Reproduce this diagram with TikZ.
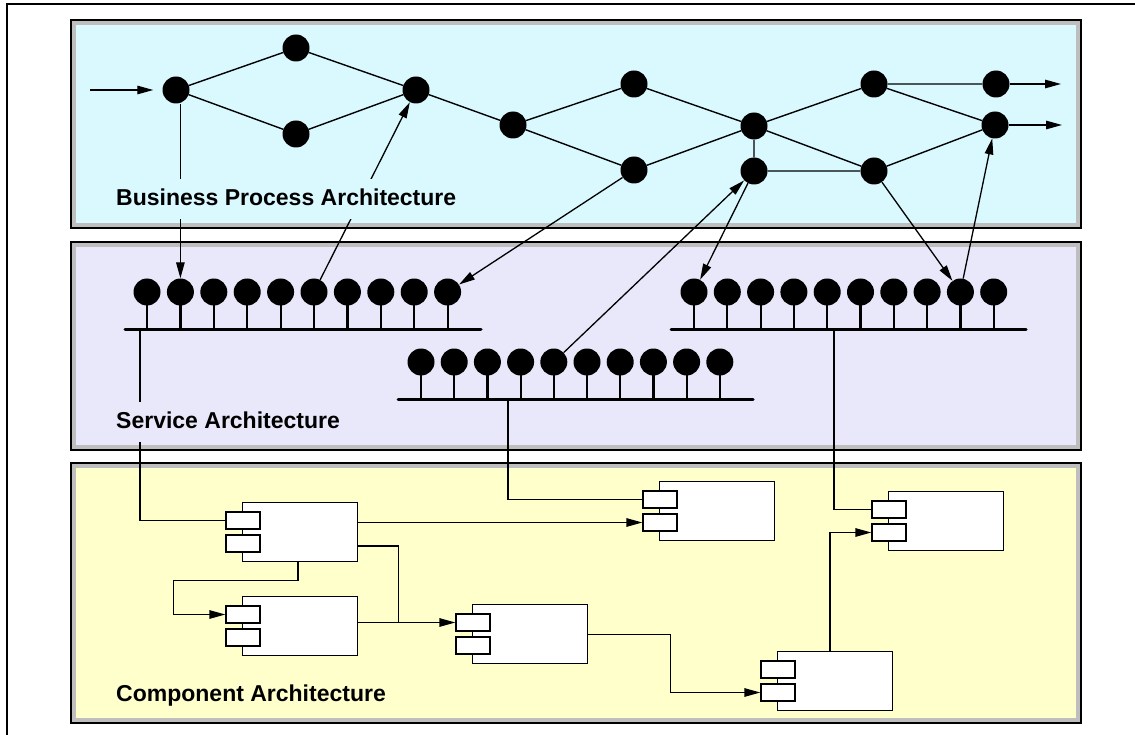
\documentclass[tikz,border=0pt]{standalone}
\usepackage{fontspec}
\setmainfont{Liberation Sans}
\usetikzlibrary{arrows.meta,calc}
\definecolor{bpfill}{HTML}{D9F9FF}
\definecolor{safill}{HTML}{E8E8FA}
\definecolor{cafill}{HTML}{FFFFCC}
\definecolor{band}{HTML}{BEBEBE}
\tikzset{
  bpdot/.style={circle, fill=black, inner sep=0pt, minimum size=27pt},
  flow/.style={line width=1.4pt},
  arr/.style={line width=1.3pt, -{Triangle[length=16pt,width=8.5pt]}},
  conn/.style={line width=1.3pt},
  stick/.style={line width=2.2pt},
  svcbar/.style={line width=3pt, line cap=round},
  panel/.style={draw=black, line width=2pt, fill=band},
  laytext/.style={anchor=west, font=\fontsize{23}{27}\selectfont\bfseries, inner xsep=3pt, inner ysep=9pt, text height=17pt, text depth=5pt},
  compbox/.style={draw=black, line width=1.3pt, fill=white, minimum width=115pt, minimum height=59pt, inner sep=0pt, anchor=north west},
  portbox/.style={draw=black, line width=1.3pt, fill=white, minimum width=34pt, minimum height=17pt, inner sep=0pt},
}
\newcommand\mkcomp[3]{%
  \node[compbox] (#1) at (#2,#3) {};
  \node[portbox] (#1-p1) at ($(#1.north west)+(1,18.5)$) {};
  \node[portbox] (#1-p2) at ($(#1.north west)+(1,41.5)$) {};
}
\begin{document}
\begin{tikzpicture}[x=1pt,y=-1pt]
\useasboundingbox (0,0) rectangle (1135,735);
% outer frame
\draw[line width=2pt] (7,735) -- (7,4) -- (1135,4);
% panels
\draw[panel] (71,20) rectangle (1081,228);
\fill[bpfill] (76,25) rectangle (1076,223);
\draw[panel] (71,242) rectangle (1081,450);
\fill[safill] (76,247) rectangle (1076,445);
\draw[panel] (71,463) rectangle (1081,723);
\fill[cafill] (76,468) rectangle (1076,718);

% business process nodes
\node[bpdot] (A) at (176,90) {};
\node[bpdot] (B) at (296,48) {};
\node[bpdot] (C) at (296,134) {};
\node[bpdot] (D) at (416,90) {};
\node[bpdot] (E) at (513,125) {};
\node[bpdot] (F) at (634,84) {};
\node[bpdot] (G) at (634,170) {};
\node[bpdot] (H) at (754,126) {};
\node[bpdot] (I) at (754,171) {};
\node[bpdot] (J) at (874,84) {};
\node[bpdot] (K) at (874,171) {};
\node[bpdot] (L) at (996,84) {};
\node[bpdot] (M) at (995,125) {};
\coordinate (in) at (90,90);
\coordinate (out1) at (1061,84);
\coordinate (out2) at (1062,125);
\draw[arr, shorten >=9pt] (in) -- (A);
\draw[arr] (L) -- (out1);
\draw[arr] (M) -- (out2);
\draw[flow] (A)--(B) (A)--(C) (B)--(D) (C)--(D) (D)--(E) (E)--(F) (E)--(G)
  (F)--(H) (G)--(H) (H)--(I) (H)--(J) (H)--(K) (I)--(K) (J)--(L) (J)--(M) (K)--(M);

% service rows
\foreach \i in {1,...,10} {
  \pgfmathsetmacro\xx{147+33.4*(\i-1)}
  \draw[stick] (\xx,292) -- (\xx,329);
  \node[bpdot] (ra\i) at (\xx,292) {};
  \pgfmathsetmacro\xy{421+33.2*(\i-1)}
  \draw[stick] (\xy,362) -- (\xy,399);
  \node[bpdot] (rb\i) at (\xy,362) {};
  \pgfmathsetmacro\xz{694+33.3*(\i-1)}
  \draw[stick] (\xz,292) -- (\xz,329);
  \node[bpdot] (rc\i) at (\xz,292) {};
}
\coordinate (ba1) at (125,329); \coordinate (ba2) at (481,329);
\coordinate (bb1) at (398,399); \coordinate (bb2) at (753,399);
\coordinate (bc1) at (671,329); \coordinate (bc2) at (1026,329);
\draw[svcbar] (ba1) -- (ba2);
\draw[svcbar] (bb1) -- (bb2);
\draw[svcbar] (bc1) -- (bc2);
\coordinate (tap1) at (140,329);
\coordinate (tap2) at (508,399);
\coordinate (tap3) at (834,329);

% business <-> service
\draw[arr] (A.south -| ra2) -- (ra2);
\draw[arr] (ra6) -- (D);
\draw[arr] (G) -- (ra10);
\draw[arr] (rb5) -- (I);
\draw[arr] (I) -- (rc1);
\draw[arr] (K) -- (rc9);
\draw[arr] (rc9) -- (M);

% components
\mkcomp{c1}{242}{502}
\mkcomp{c2}{242}{596}
\mkcomp{c3}{659}{481}
\mkcomp{c4}{472}{604}
\mkcomp{c5}{888}{491}
\mkcomp{c6}{777}{651}

% service -> component
\draw[conn] (tap1) |- (c1-p1.west);
\draw[conn] (tap2) |- (c3-p1.west);
\draw[conn] (tap3) |- (c5-p1.west);

% component connectors
\draw[arr] (c1.east |- c3-p2) -- (c3-p2.west);
\draw[arr] ($(c1.north east)+(0,44)$) -| ($(c4-p1.west)+(-57,0)$) -- (c4-p1.west);
\draw[conn] (c2.east |- c4-p1) -- ($(c4-p1.west)+(-57,0)$);
\draw[arr] ($(c1.south west)+(56,0)$) -- ++(0,18) -| ($(c2-p1.west)+(-52,0)$) -- (c2-p1.west);
\draw[arr] (c4.east) -| ($(c6-p2.west)+(-90,0)$) -- (c6-p2.west);
\draw[arr] ($(c6.north west)+(53,0)$) |- (c5-p2.west);

% layer labels
\node[laytext, fill=bpfill] (lbp) at (113,199.5) {Business Process Architecture};
\node[laytext, fill=safill] (lsa) at (113,422) {Service Architecture};
\node[laytext, fill=cafill] (lca) at (113,695.5) {Component Architecture};
\end{tikzpicture}
\end{document}
